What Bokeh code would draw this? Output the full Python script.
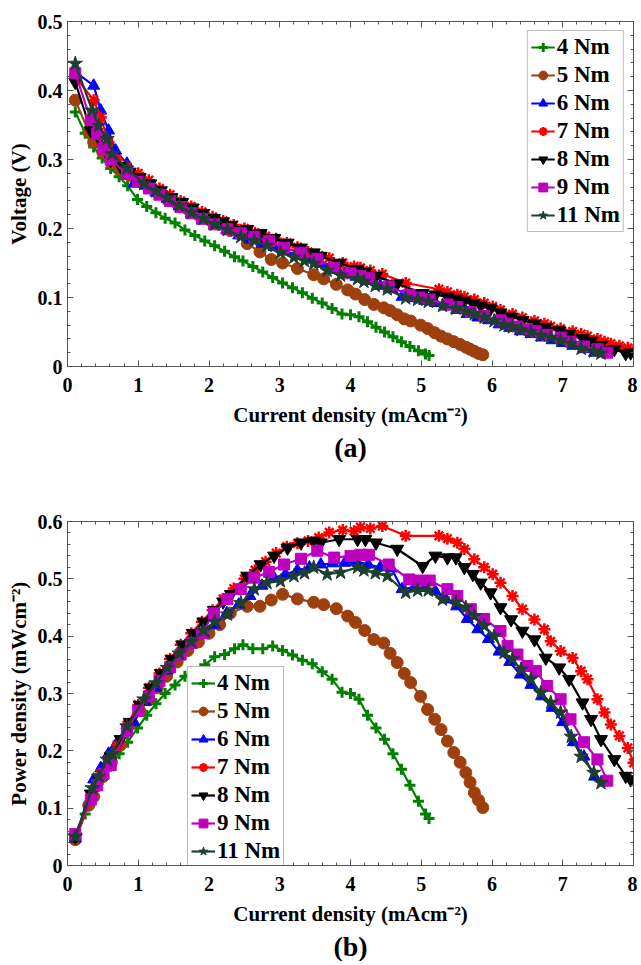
from bokeh.plotting import figure
from bokeh.models import (FixedTicker, LinearAxis, Legend, LegendItem,
                          CustomJSTickFormatter, Title, Range1d)
from bokeh.layouts import column
from bokeh.embed import file_html
from bokeh.resources import INLINE

# ---------------- data ----------------
LABELS = ["4 Nm", "5 Nm", "6 Nm", "7 Nm", "8 Nm", "9 Nm", "11 Nm"]
X_TICKS = [0, 1, 2, 3, 4, 5, 6, 7, 8]
V_TICKS = [0, 0.1, 0.2, 0.3, 0.4, 0.5]
P_TICKS = [0, 0.1, 0.2, 0.3, 0.4, 0.5, 0.6]

# 4 Nm
I4 = [0.11, 0.25, 0.37, 0.49, 0.61, 0.73, 0.85, 0.99, 1.12, 1.25,
      1.38, 1.52, 1.66, 1.80, 1.94, 2.08, 2.22, 2.36, 2.48, 2.62,
      2.76, 2.90, 3.04, 3.18, 3.32, 3.46, 3.60, 3.74, 3.88, 4.00,
      4.12, 4.24, 4.36, 4.48, 4.60, 4.72, 4.84, 4.96, 5.06, 5.11]
V4 = [0.369, 0.338, 0.318, 0.302, 0.287, 0.275, 0.262, 0.242, 0.232, 0.223,
      0.215, 0.208, 0.198, 0.190, 0.182, 0.175, 0.167, 0.159, 0.153, 0.145,
      0.137, 0.129, 0.121, 0.114, 0.107, 0.099, 0.092, 0.084, 0.076, 0.075,
      0.072, 0.065, 0.057, 0.050, 0.043, 0.036, 0.029, 0.023, 0.018, 0.016]
P4 = [0.048, 0.090, 0.124, 0.150, 0.173, 0.195, 0.215, 0.240, 0.262, 0.282,
      0.300, 0.315, 0.330, 0.338, 0.350, 0.364, 0.368, 0.378, 0.385, 0.378,
      0.378, 0.383, 0.375, 0.367, 0.358, 0.352, 0.338, 0.325, 0.302, 0.300,
      0.290, 0.262, 0.240, 0.220, 0.195, 0.168, 0.140, 0.112, 0.090, 0.082]

# 5 Nm
I5 = [0.11, 0.30, 0.37, 0.50, 0.62, 0.75, 0.88, 1.02, 1.15, 1.27,
      1.40, 1.55, 1.70, 1.85, 2.00, 2.15, 2.30, 2.54, 2.72, 2.88,
      3.04, 3.25, 3.48, 3.62, 3.80, 3.96, 4.07, 4.20, 4.33, 4.47,
      4.56, 4.66, 4.76, 4.85, 4.99, 5.09, 5.19, 5.28, 5.37, 5.46,
      5.55, 5.63, 5.69, 5.75, 5.81, 5.87]
V5 = [0.386, 0.340, 0.325, 0.310, 0.295, 0.285, 0.277, 0.268, 0.260, 0.252,
      0.245, 0.236, 0.228, 0.220, 0.213, 0.206, 0.197, 0.178, 0.166, 0.155,
      0.150, 0.142, 0.133, 0.127, 0.119, 0.111, 0.105, 0.097, 0.090, 0.085,
      0.081, 0.075, 0.069, 0.066, 0.060, 0.055, 0.049, 0.044, 0.040, 0.036,
      0.032, 0.028, 0.025, 0.022, 0.019, 0.017]
P5 = [0.045, 0.105, 0.120, 0.155, 0.180, 0.210, 0.245, 0.270, 0.290, 0.310,
      0.330, 0.355, 0.375, 0.390, 0.405, 0.420, 0.440, 0.452, 0.452, 0.463,
      0.473, 0.465, 0.459, 0.455, 0.448, 0.435, 0.424, 0.410, 0.394, 0.388,
      0.370, 0.354, 0.335, 0.319, 0.295, 0.272, 0.255, 0.237, 0.217, 0.197,
      0.180, 0.162, 0.145, 0.127, 0.114, 0.101]

# 6 Nm
I6 = [0.11, 0.37, 0.47, 0.58, 0.68, 0.84, 0.94, 1.10, 1.25, 1.41,
      1.58, 1.75, 1.92, 2.08, 2.25, 2.42, 2.58, 2.75, 2.92, 3.08,
      3.25, 3.42, 3.58, 3.75, 3.92, 4.08, 4.25, 4.42, 4.58, 4.73,
      4.90, 5.05, 5.20, 5.35, 5.50, 5.65, 5.80, 5.95, 6.10, 6.25,
      6.40, 6.55, 6.70, 6.85, 7.00, 7.15, 7.30, 7.45, 7.58]
V6 = [0.427, 0.407, 0.371, 0.342, 0.313, 0.294, 0.265, 0.262, 0.252, 0.243,
      0.232, 0.222, 0.213, 0.205, 0.198, 0.190, 0.184, 0.178, 0.173, 0.167,
      0.162, 0.156, 0.149, 0.141, 0.134, 0.130, 0.124, 0.117, 0.112, 0.101,
      0.099, 0.095, 0.092, 0.087, 0.082, 0.076, 0.071, 0.067, 0.061, 0.056,
      0.051, 0.047, 0.042, 0.038, 0.034, 0.030, 0.025, 0.020, 0.019]
P6 = [0.047, 0.150, 0.170, 0.195, 0.210, 0.245, 0.250, 0.285, 0.310, 0.340,
      0.365, 0.385, 0.405, 0.420, 0.440, 0.455, 0.470, 0.488, 0.502, 0.508,
      0.515, 0.520, 0.525, 0.527, 0.528, 0.531, 0.525, 0.520, 0.518, 0.482,
      0.485, 0.484, 0.478, 0.464, 0.452, 0.430, 0.412, 0.395, 0.373, 0.355,
      0.333, 0.315, 0.295, 0.275, 0.250, 0.215, 0.190, 0.155, 0.145]

# 7 Nm
I7 = [0.11, 0.37, 0.47, 0.58, 0.70, 0.84, 1.00, 1.15, 1.30, 1.45,
      1.60, 1.75, 1.90, 2.05, 2.20, 2.35, 2.50, 2.65, 2.80, 2.95,
      3.10, 3.25, 3.40, 3.55, 3.70, 3.89, 4.05, 4.14, 4.28, 4.45,
      4.78, 5.25, 5.37, 5.51, 5.61, 5.75, 5.89, 6.01, 6.12, 6.29,
      6.43, 6.60, 6.74, 6.83, 6.97, 7.14, 7.26, 7.35, 7.49, 7.59,
      7.68, 7.80, 7.92, 8.00]
V7 = [0.420, 0.386, 0.361, 0.325, 0.300, 0.290, 0.280, 0.270, 0.258, 0.249,
      0.240, 0.232, 0.224, 0.217, 0.211, 0.205, 0.200, 0.194, 0.189, 0.185,
      0.179, 0.173, 0.166, 0.161, 0.157, 0.150, 0.145, 0.143, 0.139, 0.134,
      0.121, 0.112, 0.108, 0.104, 0.101, 0.097, 0.092, 0.087, 0.082, 0.076,
      0.071, 0.066, 0.062, 0.058, 0.055, 0.051, 0.047, 0.044, 0.040, 0.036,
      0.033, 0.030, 0.027, 0.023]
P7 = [0.050, 0.130, 0.160, 0.185, 0.210, 0.245, 0.280, 0.310, 0.335, 0.360,
      0.385, 0.405, 0.425, 0.445, 0.465, 0.483, 0.500, 0.515, 0.530, 0.545,
      0.556, 0.562, 0.566, 0.572, 0.581, 0.585, 0.583, 0.590, 0.588, 0.592,
      0.575, 0.575, 0.570, 0.563, 0.552, 0.534, 0.520, 0.508, 0.493, 0.470,
      0.447, 0.429, 0.412, 0.391, 0.374, 0.362, 0.339, 0.325, 0.290, 0.267,
      0.246, 0.226, 0.205, 0.179]

# 8 Nm
I8 = [0.11, 0.33, 0.45, 0.61, 0.75, 0.88, 1.02, 1.17, 1.32, 1.47,
      1.62, 1.77, 1.92, 2.07, 2.20, 2.31, 2.54, 2.73, 2.92, 3.11,
      3.30, 3.48, 3.58, 3.84, 4.10, 4.21, 4.36, 4.66, 5.02, 5.20,
      5.37, 5.49, 5.61, 5.73, 5.84, 5.98, 6.12, 6.27, 6.43, 6.60,
      6.76, 6.95, 7.09, 7.28, 7.40, 7.54, 7.73, 7.89, 7.96]
V8 = [0.412, 0.342, 0.330, 0.299, 0.290, 0.282, 0.274, 0.265, 0.255, 0.245,
      0.238, 0.230, 0.222, 0.215, 0.210, 0.205, 0.199, 0.193, 0.186, 0.179,
      0.172, 0.165, 0.160, 0.150, 0.141, 0.137, 0.131, 0.120, 0.106, 0.104,
      0.101, 0.098, 0.095, 0.091, 0.088, 0.084, 0.078, 0.072, 0.067, 0.062,
      0.057, 0.052, 0.047, 0.041, 0.037, 0.031, 0.025, 0.019, 0.020]
P8 = [0.050, 0.125, 0.150, 0.190, 0.220, 0.250, 0.280, 0.310, 0.335, 0.360,
      0.385, 0.405, 0.425, 0.445, 0.460, 0.473, 0.505, 0.525, 0.540, 0.554,
      0.563, 0.566, 0.563, 0.569, 0.569, 0.569, 0.563, 0.552, 0.522, 0.540,
      0.537, 0.537, 0.520, 0.508, 0.493, 0.476, 0.450, 0.429, 0.409, 0.394,
      0.362, 0.345, 0.325, 0.284, 0.255, 0.220, 0.185, 0.156, 0.150]

# 9 Nm
I9 = [0.11, 0.33, 0.42, 0.51, 0.61, 0.84, 1.00, 1.15, 1.30, 1.45,
      1.60, 1.75, 1.90, 2.07, 2.26, 2.45, 2.64, 2.85, 3.06, 3.30,
      3.53, 3.77, 4.00, 4.14, 4.26, 4.54, 4.83, 4.97, 5.12, 5.37,
      5.51, 5.70, 5.89, 6.12, 6.22, 6.36, 6.50, 6.62, 6.78, 6.97,
      7.11, 7.30, 7.49, 7.63]
V9 = [0.425, 0.357, 0.337, 0.316, 0.300, 0.279, 0.268, 0.258, 0.249, 0.240,
      0.231, 0.222, 0.214, 0.206, 0.199, 0.193, 0.188, 0.182, 0.172, 0.165,
      0.156, 0.143, 0.135, 0.131, 0.128, 0.116, 0.104, 0.100, 0.097, 0.090,
      0.086, 0.079, 0.073, 0.067, 0.062, 0.058, 0.054, 0.051, 0.046, 0.042,
      0.036, 0.029, 0.025, 0.020]
P9 = [0.055, 0.115, 0.140, 0.160, 0.175, 0.235, 0.270, 0.295, 0.322, 0.346,
      0.368, 0.388, 0.405, 0.440, 0.465, 0.482, 0.502, 0.512, 0.525, 0.535,
      0.549, 0.537, 0.540, 0.542, 0.542, 0.525, 0.499, 0.497, 0.497, 0.482,
      0.470, 0.447, 0.430, 0.409, 0.383, 0.368, 0.348, 0.339, 0.313, 0.290,
      0.255, 0.215, 0.185, 0.148]

# 11 Nm
I11 = [0.11, 0.35, 0.44, 0.56, 0.63, 0.84, 1.08, 1.25, 1.41, 1.58,
       1.75, 1.92, 2.08, 2.26, 2.45, 2.64, 2.82, 3.01, 3.20, 3.35,
       3.48, 3.67, 3.86, 4.10, 4.19, 4.35, 4.52, 4.78, 4.95, 5.10,
       5.30, 5.49, 5.63, 5.75, 5.89, 6.03, 6.17, 6.29, 6.41, 6.55,
       6.69, 6.83, 6.97, 7.12, 7.26, 7.44, 7.54]
V11 = [0.439, 0.371, 0.349, 0.330, 0.308, 0.287, 0.265, 0.254, 0.244, 0.233,
       0.223, 0.214, 0.206, 0.198, 0.188, 0.182, 0.175, 0.165, 0.158, 0.153,
       0.149, 0.139, 0.132, 0.127, 0.123, 0.117, 0.112, 0.099, 0.097, 0.094,
       0.088, 0.084, 0.080, 0.076, 0.071, 0.066, 0.060, 0.057, 0.053, 0.050,
       0.045, 0.042, 0.038, 0.033, 0.026, 0.022, 0.019]
P11 = [0.050, 0.135, 0.155, 0.185, 0.195, 0.243, 0.290, 0.318, 0.345, 0.370,
       0.390, 0.410, 0.425, 0.438, 0.458, 0.482, 0.493, 0.496, 0.505, 0.510,
       0.520, 0.508, 0.511, 0.520, 0.515, 0.510, 0.505, 0.476, 0.480, 0.480,
       0.464, 0.459, 0.450, 0.435, 0.418, 0.400, 0.371, 0.360, 0.342, 0.325,
       0.301, 0.284, 0.267, 0.225, 0.190, 0.162, 0.144]

CURRENTS = [I4, I5, I6, I7, I8, I9, I11]
VOLTAGES = [V4, V5, V6, V7, V8, V9, V11]
POWERS = [P4, P5, P6, P7, P8, P9, P11]

# ---------------- styles ----------------
COLORS = ["#008000", "#9e3f0e", "#0000ff", "#ff0000", "#000000", "#bf00bf", "#1c3f30"]
MARKERS = ["cross", "circle", "triangle", "asterisk", "inverted_triangle", "square", "star"]
SIZES = [11, 12, 12, 12, 13, 11, 15]
MLW = [3, 1, 1, 2.5, 1, 1, 1]

FONT = "Liberation Serif"
AX = "#555555"


def style_axis(ax, ticks, minor, code, labels=True):
    ax.ticker = FixedTicker(ticks=ticks, minor_ticks=minor)
    ax.major_tick_in = 6
    ax.major_tick_out = 0
    ax.minor_tick_in = 3
    ax.minor_tick_out = 0
    ax.axis_line_color = AX
    ax.major_tick_line_color = AX
    ax.minor_tick_line_color = AX
    ax.major_label_text_font = FONT
    ax.major_label_text_font_style = "bold"
    ax.major_label_text_color = "black"
    if labels:
        ax.formatter = CustomJSTickFormatter(code=code)
        ax.major_label_text_font_size = "20px"
    else:
        ax.formatter = CustomJSTickFormatter(code="return '';")
        ax.major_label_text_font_size = "0px"
        ax.major_label_standoff = 0
    ax.axis_label_text_font = FONT
    ax.axis_label_text_font_style = "bold"
    ax.axis_label_text_font_size = "21px"
    ax.axis_label_text_color = "black"


def make_fig(ys, ymax, yticks, ylabel, tag, frame_h, top, legend_loc):
    p = figure(frame_width=566, frame_height=frame_h,
               x_range=Range1d(0, 8), y_range=Range1d(0, ymax),
               output_backend="svg", toolbar_location=None,
               min_border_left=67, min_border_right=4,
               min_border_top=top, min_border_bottom=0)
    p.xgrid.visible = False
    p.ygrid.visible = False
    p.outline_line_color = AX
    p.background_fill_color = "white"
    p.border_fill_color = "white"

    xminor = [i * 0.2 for i in range(41)]
    yminor = [i * 0.02 for i in range(int(round(ymax / 0.02)) + 1)]
    xcode = "return Math.round(tick).toString();"
    ycode = "return (Math.round(tick*10)/10).toString();"

    style_axis(p.xaxis[0], X_TICKS, xminor, xcode)
    p.xaxis[0].major_label_standoff = 11
    p.xaxis[0].axis_label = "Current density (mAcm\u207b\u00b2)"
    p.xaxis[0].axis_label_standoff = 8
    style_axis(p.yaxis[0], yticks, yminor, ycode)
    p.yaxis[0].major_label_standoff = 5
    p.yaxis[0].axis_label = ylabel
    p.yaxis[0].axis_label_standoff = 4

    top_ax = LinearAxis()
    style_axis(top_ax, X_TICKS, xminor, xcode, labels=False)
    p.add_layout(top_ax, "above")
    right_ax = LinearAxis()
    style_axis(right_ax, yticks, yminor, ycode, labels=False)
    p.add_layout(right_ax, "right")

    items = []
    for lab, xs, yv, c, m, s, lw in zip(LABELS, CURRENTS, ys, COLORS, MARKERS, SIZES, MLW):
        lr = p.line(xs, yv, line_color=c, line_width=2.2)
        sr = p.scatter(xs, yv, marker=m, size=s, fill_color=c, line_color=c, line_width=lw)
        items.append(LegendItem(label=lab, renderers=[lr, sr]))

    leg = Legend(items=items, location=legend_loc)
    leg.label_text_font = FONT
    leg.label_text_font_style = "bold"
    leg.label_text_font_size = "23px"
    leg.label_text_color = "black"
    leg.border_line_color = "#777777"
    leg.border_line_width = 1
    leg.background_fill_color = "white"
    leg.background_fill_alpha = 1
    leg.padding = 3
    leg.spacing = 2
    leg.margin = 9
    leg.glyph_width = 24
    leg.glyph_height = 22
    leg.label_height = 22
    leg.label_standoff = 2
    p.add_layout(leg)

    t = Title(text=tag, align="center", text_font=FONT, text_font_style="bold",
              text_font_size="28px", text_color="black", standoff=0)
    p.add_layout(t, "below")
    return p


p1 = make_fig(VOLTAGES, 0.5, V_TICKS, "Voltage (V)", "(a)", 345, 21, "top_right")
p2 = make_fig(POWERS, 0.6, P_TICKS, "Power density (mWcm\u207b\u00b2)", "(b)", 344, 59, (120, -3))

layout = column(p1, p2, spacing=0)
open("out.html", "w").write(file_html(layout, INLINE))
